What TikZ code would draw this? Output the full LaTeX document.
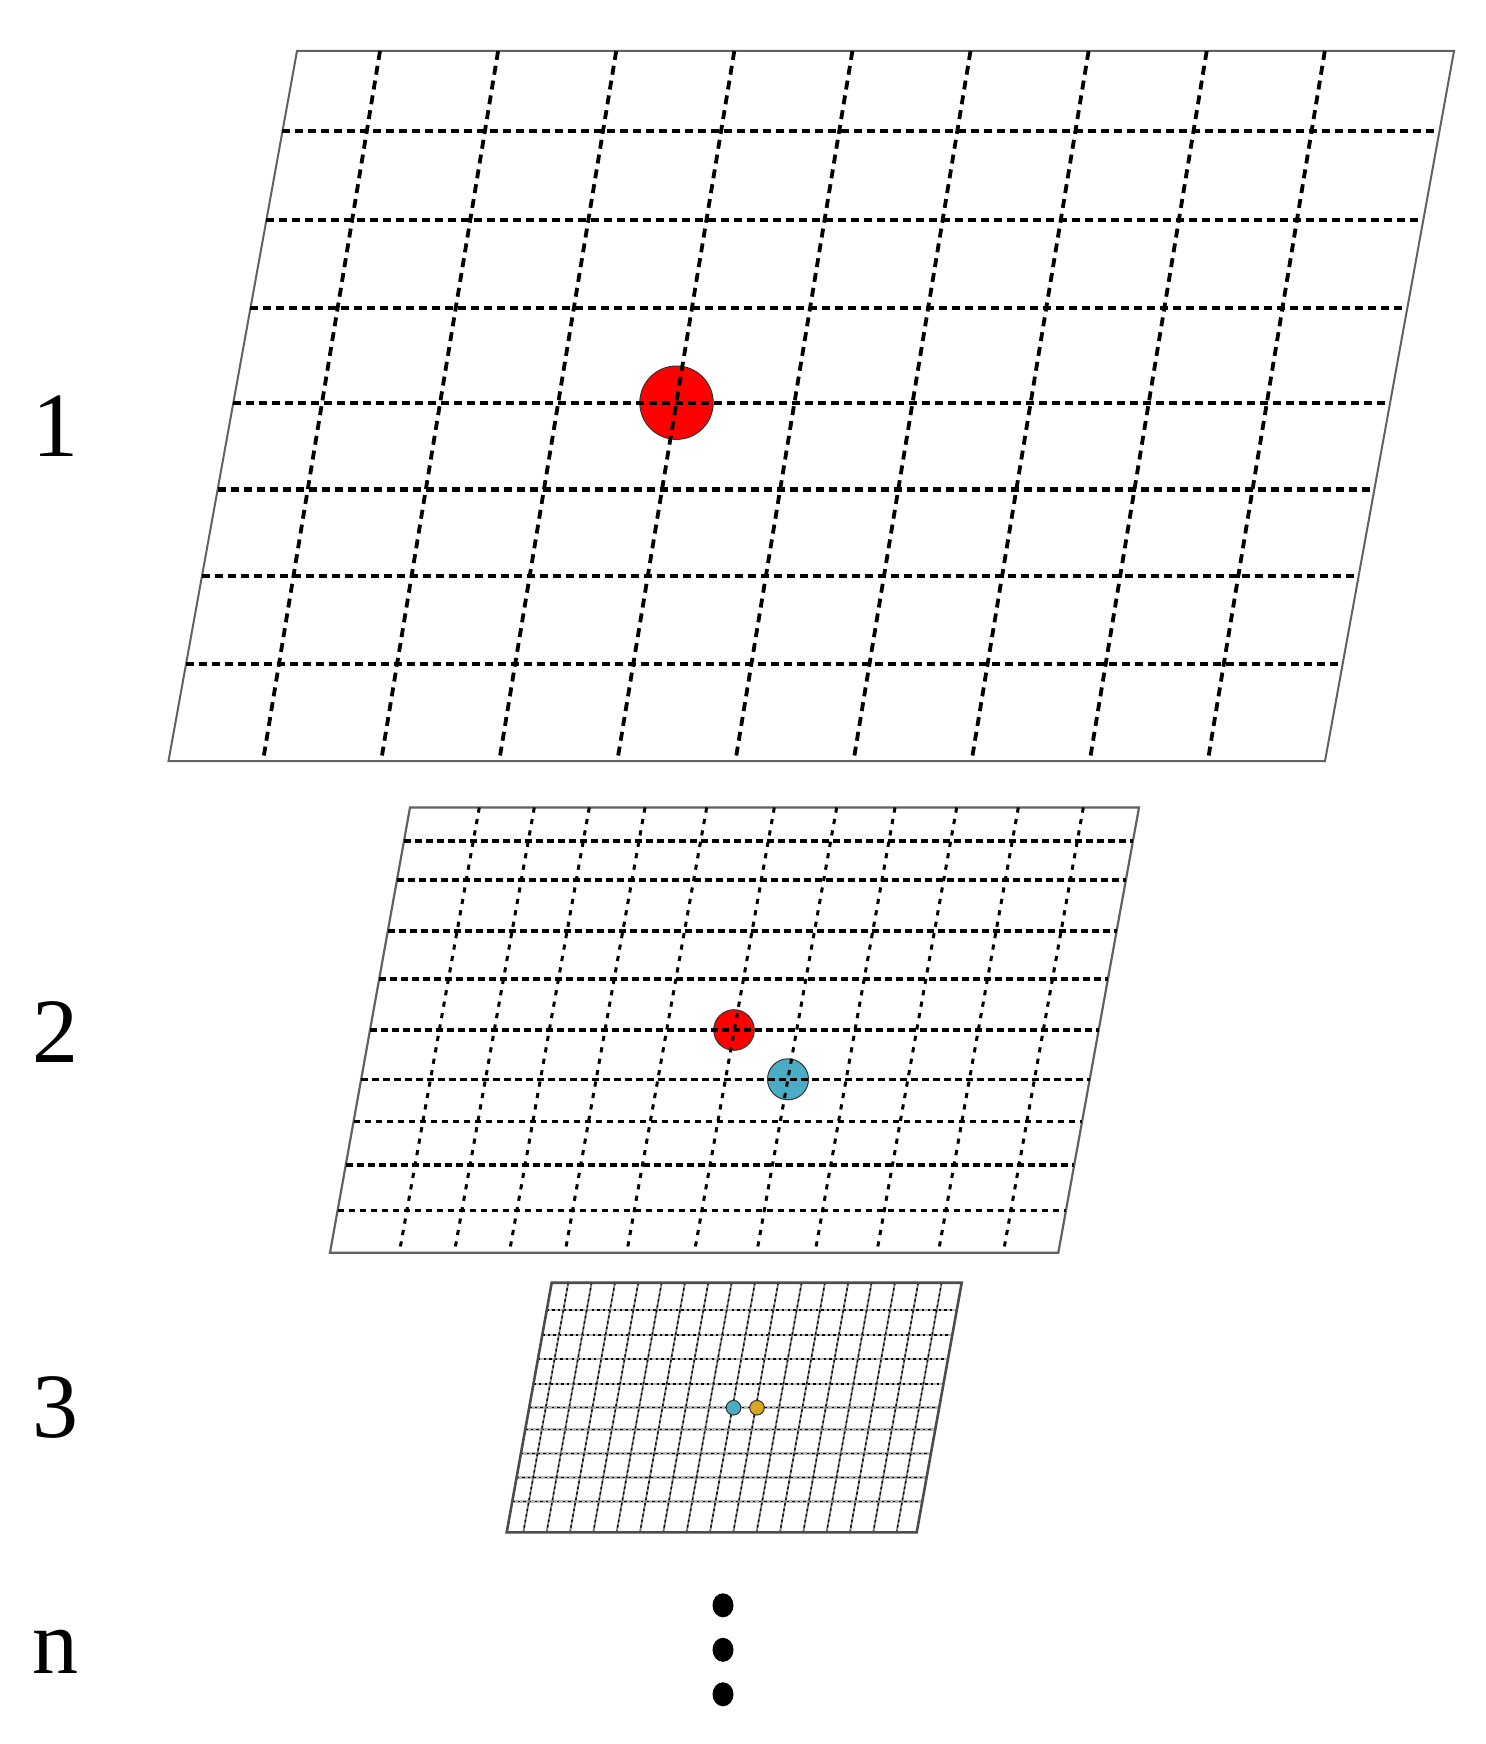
\documentclass[tikz,border=0pt]{standalone}
\usepackage{fontspec}
\setmainfont{Liberation Serif}
\definecolor{cblue}{RGB}{75,172,198}
\definecolor{cgold}{RGB}{218,165,32}
\begin{document}
\begin{tikzpicture}[x=0.5pt,y=-0.5pt,
  frame/.style={draw=black!62,line width=1pt,line join=miter},
  frameb/.style={draw=black!62,line width=1.1pt,line join=miter},
  framec/.style={draw=black!70,line width=1.3pt,line join=miter},
  ga/.style={line width=2.1pt,dash pattern=on 4pt off 2.5pt},
  gav/.style={line width=1.9pt,dash pattern=on 4.5pt off 3pt},
  gb/.style={line width=1.6pt,dash pattern=on 3.4pt off 2.1pt},
  gbv/.style={line width=1.5pt,dash pattern=on 2.6pt off 3.2pt},
  gcs/.style={draw=black!28,line width=1.4pt},
  gcsv/.style={draw=black!50,line width=0.9pt},
  gcd/.style={line width=0.7pt,dash pattern=on 1.2pt off 1.6pt},
  dotc/.style={draw=black!80,line width=0.5pt},
  lab/.style={font=\fontsize{46}{50}\selectfont,inner sep=0pt}]
\useasboundingbox (0,0) rectangle (1485,1744);

% ---------- layer 1 ----------
\draw[frame] (297,51) -- (1454,51) -- (1325,761) -- (168.5,761) -- cycle;
\draw[dotc,fill=red] (676.5,402.7) circle[radius=36.7];
\foreach \y in {131.3,220.3,308.2,402.7,489.5,576.3,664.2}{
  \pgfmathsetmacro\xl{297-(\y-51)/710*128.5}
  \pgfmathsetmacro\xr{1454-(\y-51)/710*129}
  \draw[ga] (\xl,\y) -- (\xr,\y);}
\foreach \k in {0,...,8}{
  \pgfmathsetmacro\xt{380+118.1*\k}
  \draw[gav] (\xt,51) -- ({\xt-117},761);}

% ---------- layer 2 ----------
\draw[frameb] (410,807.5) -- (1139,807.5) -- (1058.3,1252.7) -- (330,1252.7) -- cycle;
\draw[dotc,fill=red] (734,1030) circle[radius=20.3];
\draw[dotc,fill=cblue] (788,1079.3) circle[radius=20.5];
\foreach \y in {841,880,931,979,1030,1079.3,1121.7,1165,1210.7}{
  \pgfmathsetmacro\xl{410-(\y-807.5)/445.2*80}
  \pgfmathsetmacro\xr{1139-(\y-807.5)/445.2*80.7}
  \draw[gb] (\xl,\y) -- (\xr,\y);}
\foreach \xt in {479.3,534.3,589.3,645,706.7,774.3,836.7,895,956.7,1018.3,1083.3}{
  \draw[gbv] (\xt,807.5) -- ({\xt-80},1252.7);}

% ---------- layer 3 ----------
\foreach \y in {1310,1335,1359,1384,1407.7,1429.3,1453.3,1477.3,1501.7}{
  \pgfmathsetmacro\xl{551.7-(\y-1282.7)/249.6*45}
  \pgfmathsetmacro\xr{961.7-(\y-1282.7)/249.6*45}
  \draw[gcs] (\xl,\y) -- (\xr,\y);
  \draw[gcd] (\xl,\y) -- (\xr,\y);}
\foreach \k in {0,...,16}{
  \pgfmathsetmacro\xt{568.3+23.33*\k}
  \draw[gcsv] (\xt,1282.7) -- ({\xt-45},1532.3);
  \draw[gcd] (\xt,1282.7) -- ({\xt-45},1532.3);}
\draw[framec] (551.7,1282.7) -- (961.7,1282.7) -- (916.7,1532.3) -- (506.7,1532.3) -- cycle;
\draw[dotc,fill=cblue] (733.5,1407.7) circle[radius=7.3];
\draw[dotc,fill=cgold] (757,1407.7) circle[radius=7.3];

% ---------- labels ----------
\node[lab] (l1) at (55.6,426) {1};
\node[lab] (l2) at (55.6,1032) {2};
\node[lab] (l3) at (55.6,1407) {3};
\node[lab] (ln) at (55.6,1652) {n};

% ---------- vertical ellipsis ----------
\fill (723,1605.3) ellipse [x radius=10.5, y radius=12];
\fill (723,1649.8) ellipse [x radius=10.5, y radius=12];
\fill (723,1694.3) ellipse [x radius=10.5, y radius=12];
\end{tikzpicture}
\end{document}
